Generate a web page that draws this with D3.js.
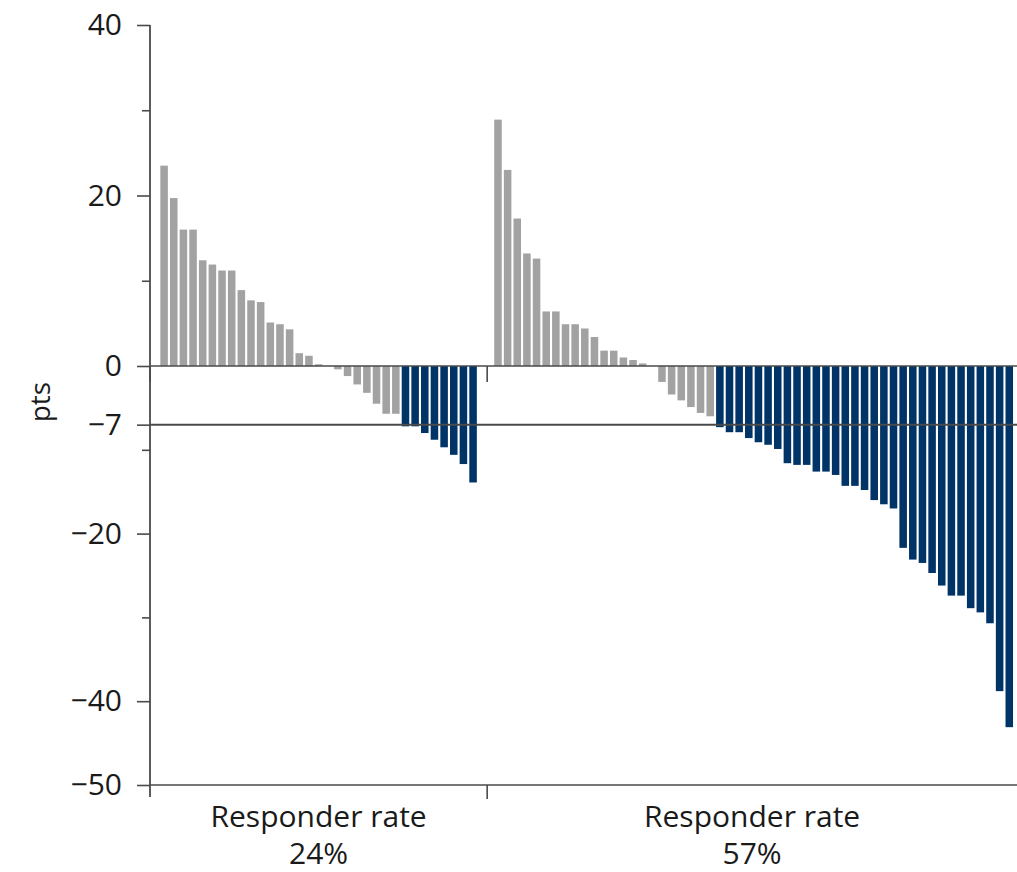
<!DOCTYPE html>
<html>
<head>
<meta charset="utf-8">
<script src="https://cdn.jsdelivr.net/npm/d3@7"></script>
<style>
  html, body { margin: 0; padding: 0; background: #fff; }
  svg { display: block; }
  text { font-family: "Open Sans", "Noto Sans", sans-serif; fill: #1a1a1a; }
</style>
</head>
<body>
<svg id="chart" width="1017" height="872"></svg>
<script>
// ---- data ----
const groupLabels = ["Responder rate", "Responder rate"];
const groupRates = ["24%", "57%"];
const responderThreshold = -7;
const leftValues = [23.5, 19.7, 16.0, 16.0, 12.4, 11.9, 11.2, 11.2, 8.9, 7.7, 7.5, 5.1, 4.9, 4.3, 1.5, 1.2, 0.2, 0,
  -0.4, -1.2, -2.2, -3.2, -4.5, -5.7, -5.7,
  -7.2, -7.2, -8.0, -8.8, -9.7, -10.6, -11.7, -13.9];
const rightValues = [28.9, 23.0, 17.3, 13.2, 12.6, 6.4, 6.4, 4.9, 4.9, 4.4, 3.4, 1.8, 1.8, 1.0, 0.7, 0.3, 0,
  -1.9, -3.4, -4.1, -4.9, -5.6, -6.0,
  -7.3, -7.9, -7.9, -8.6, -9.1, -9.4, -9.9, -11.6, -11.8, -11.8, -12.6, -12.6, -13.0,
  -14.3, -14.3, -14.8, -16.0, -16.5, -17.0, -21.7, -23.1, -23.5, -24.7, -26.2, -27.4, -27.4,
  -28.9, -29.4, -30.7, -38.8, -43.1];
const yTicksMajor = [40, 20, 0, -7, -20, -40, -50];
const yTicksMinor = [30, 10, -10, -30];
const yLabel = "pts";

// ---- layout ----
const svg = d3.select("#chart");
const mLeft = 150, mRight = 1017;
const grey = "#a2a2a2", blue = "#003366", lineCol = "#4a4a4a";

// group widths proportional to bar counts (plus gaps)
const total = (leftValues.length + 2) + (rightValues.length + 1);
const divider = mLeft + (mRight - mLeft) * (leftValues.length + 2) / total;

const x1 = d3.scaleBand().domain(d3.range(leftValues.length)).range([mLeft, divider])
  .paddingInner(0.22).paddingOuter(1.07);
const x2 = d3.scaleBand().domain(d3.range(rightValues.length)).range([divider, mRight])
  .paddingInner(0.22).paddingOuter(0.57).align(0.64);
const y = d3.scaleLinear().domain([-50, 0, 40]).range([785, 366, 25]);
const yBottom = y(-50), yTop = y(40);

const groups = [
  { values: leftValues, x: x1, bounds: [mLeft, divider] },
  { values: rightValues, x: x2, bounds: [divider, mRight] }
];

// bars
groups.forEach(g => {
  svg.append("g").selectAll("rect").data(g.values.map((v, i) => ({ v, i }))).join("rect")
    .attr("x", d => g.x(d.i))
    .attr("width", g.x.bandwidth())
    .attr("y", d => y(Math.max(0, d.v)))
    .attr("height", d => Math.abs(y(d.v) - y(0)))
    .attr("fill", d => d.v <= responderThreshold ? blue : grey);
});

// zero and -7 reference lines
svg.append("line").attr("x1", mLeft).attr("x2", mRight)
  .attr("y1", y(0)).attr("y2", y(0)).attr("stroke", lineCol).attr("stroke-width", 1.6);
svg.append("line").attr("x1", mLeft).attr("x2", mRight)
  .attr("y1", y(responderThreshold)).attr("y2", y(responderThreshold)).attr("stroke", lineCol).attr("stroke-width", 2);

// ticks on the zero line at group boundaries
[mLeft, divider].forEach(px => {
  svg.append("line").attr("x1", px).attr("x2", px).attr("y1", y(0)).attr("y2", y(0) + 16)
    .attr("stroke", lineCol).attr("stroke-width", 1.6);
});

// y axis
const yAxis = svg.append("g").attr("transform", `translate(${mLeft},0)`)
  .call(d3.axisLeft(y).tickValues(yTicksMajor).tickSize(13).tickPadding(15).tickFormat(d3.format("d")));
yAxis.select(".domain").remove();
yAxis.selectAll(".tick line").attr("stroke", lineCol).attr("stroke-width", 1.6);
yAxis.selectAll(".tick text").style("font-size", "30px").attr("fill", "#1a1a1a");
const yMinor = svg.append("g").attr("transform", `translate(${mLeft},0)`)
  .call(d3.axisLeft(y).tickValues(yTicksMinor).tickSize(8).tickFormat(""));
yMinor.select(".domain").remove();
yMinor.selectAll(".tick line").attr("stroke", lineCol).attr("stroke-width", 1.6);
svg.append("line").attr("x1", mLeft).attr("x2", mLeft).attr("y1", yTop).attr("y2", yBottom + 12)
  .attr("stroke", lineCol).attr("stroke-width", 1.8);

// bottom axis
svg.append("line").attr("x1", mLeft).attr("x2", mRight).attr("y1", yBottom).attr("y2", yBottom)
  .attr("stroke", lineCol).attr("stroke-width", 1.6);
svg.append("line").attr("x1", divider).attr("x2", divider).attr("y1", yBottom).attr("y2", yBottom + 14)
  .attr("stroke", lineCol).attr("stroke-width", 1.6);

// group labels
groups.forEach((g, gi) => {
  const cx = (g.bounds[0] + g.bounds[1]) / 2;
  svg.append("text").attr("x", cx).attr("y", 827).attr("text-anchor", "middle")
    .style("font-size", "30px").text(groupLabels[gi]);
  svg.append("text").attr("x", cx).attr("y", 864).attr("text-anchor", "middle")
    .style("font-size", "30px").text(groupRates[gi]);
});

// y label
svg.append("text").attr("transform", `translate(50,${y(-4.3)}) rotate(-90)`)
  .attr("text-anchor", "middle").style("font-size", "28px").text(yLabel);
</script>
</body>
</html>
